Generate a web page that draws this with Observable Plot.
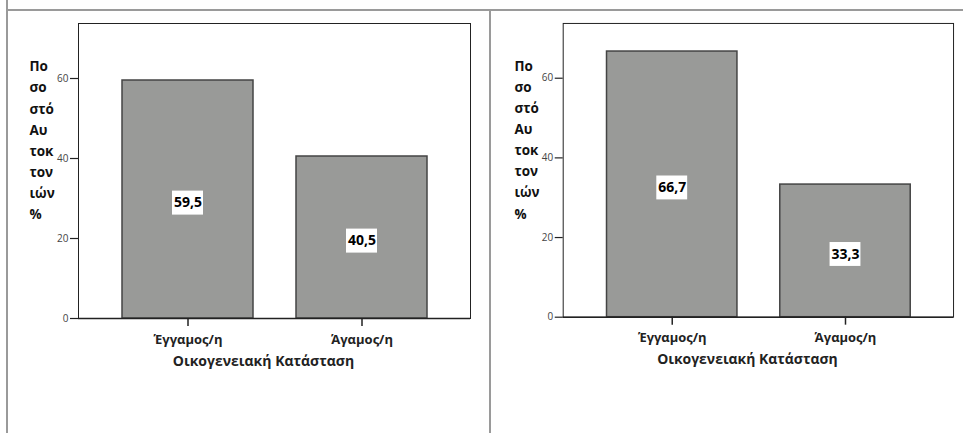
<!DOCTYPE html>
<html><head><meta charset="utf-8">
<script src="https://cdn.jsdelivr.net/npm/d3@7"></script>
<script src="https://cdn.jsdelivr.net/npm/@observablehq/plot@0.6"></script>
<style>
body{margin:0;background:#fff;font-family:"Open Sans",sans-serif}
#page{position:relative;width:963px;height:433px;overflow:hidden;background:#fff}
.line{position:absolute;background:#9a9a9a}
.panel{position:absolute;top:12px}
.panel svg{display:block;background:transparent}
</style></head><body>
<div id="page">
  <div class="line" style="left:6px;top:0;width:2px;height:433px"></div>
  <div class="line" style="left:6px;top:9px;width:957px;height:2px"></div>
  <div class="line" style="left:489px;top:9px;width:2px;height:424px"></div>
  <div id="p1" class="panel" style="left:8px"></div>
  <div id="p2" class="panel" style="left:491px"></div>
</div>
<script>
const categories = ["Έγγαμος/η", "Άγαμος/η"];
const valuesLeft = [59.5, 40.5];
const valuesRight = [66.7, 33.3];
const yTicks = [0, 20, 40, 60];
const yMax = 73.75;
const yLabelLines = ["Πο", "σο", "στό", "Αυ", "τοκ", "τον", "ιών", "%"];
const xLabel = "Οικογενειακή Κατάσταση";

const fmt = v => v.toFixed(1).replace(".", ",");

function panel(values, ml, mr) {
  const data = categories.map((c, i) => ({cat: c, value: values[i]}));
  const width = ml + 392 + mr;
  return Plot.plot({
    width, height: 421,
    marginLeft: ml, marginRight: mr, marginTop: 11, marginBottom: 115,
    style: {fontFamily: "'Open Sans', sans-serif", background: "transparent"},
    x: {domain: categories, padding: 0.25, axis: null},
    y: {domain: [0, yMax], axis: null},
    marks: [
      Plot.barY(data, {x: "cat", y: "value", fill: "#999a98", stroke: "#444", strokeWidth: 1.5}),
      Plot.frame({stroke: "#222", strokeWidth: 1}),
      Plot.ruleX([0], {frameAnchor: "left", stroke: "#222", strokeWidth: 1.5}),
      Plot.ruleY([0], {stroke: "#222", strokeWidth: 1.5}),
      Plot.axisY(yTicks, {tickSize: 8, tickPadding: 2, fontSize: 10, fill: "#444", stroke: "#222", strokeWidth: 1.2, label: null}),
      Plot.axisX({tickSize: 8, tickPadding: 8, fontSize: 13, fontWeight: "bold", fill: "#222", stroke: "#222", strokeWidth: 1.5, label: null}),
      Plot.barY(data, {x: "cat", y1: d => d.value / 2 - 3.9, y2: d => d.value / 2 + 2.1, fill: "white", insetLeft: 50, insetRight: 50}),
      Plot.text(data, {x: "cat", y: d => d.value / 2, dy: 3.5, text: d => fmt(d.value), fontSize: 14, fontWeight: "bold", fill: "#000"}),
      Plot.text([yLabelLines.join("\n")], {frameAnchor: "top-left", textAnchor: "start", lineAnchor: "middle", dx: -49, dy: 115, lineHeight: 1.57, fontSize: 13.5, fontWeight: "bold", fill: "#111"}),
      Plot.text([xLabel], {frameAnchor: "bottom", lineAnchor: "middle", dx: -11, dy: 43, fontSize: 14, fontWeight: "bold", fill: "#222"})
    ]
  });
}

document.getElementById("p1").append(panel(valuesLeft, 70, 11));
document.getElementById("p2").append(panel(valuesRight, 72, 10));
</script>
</body></html>
